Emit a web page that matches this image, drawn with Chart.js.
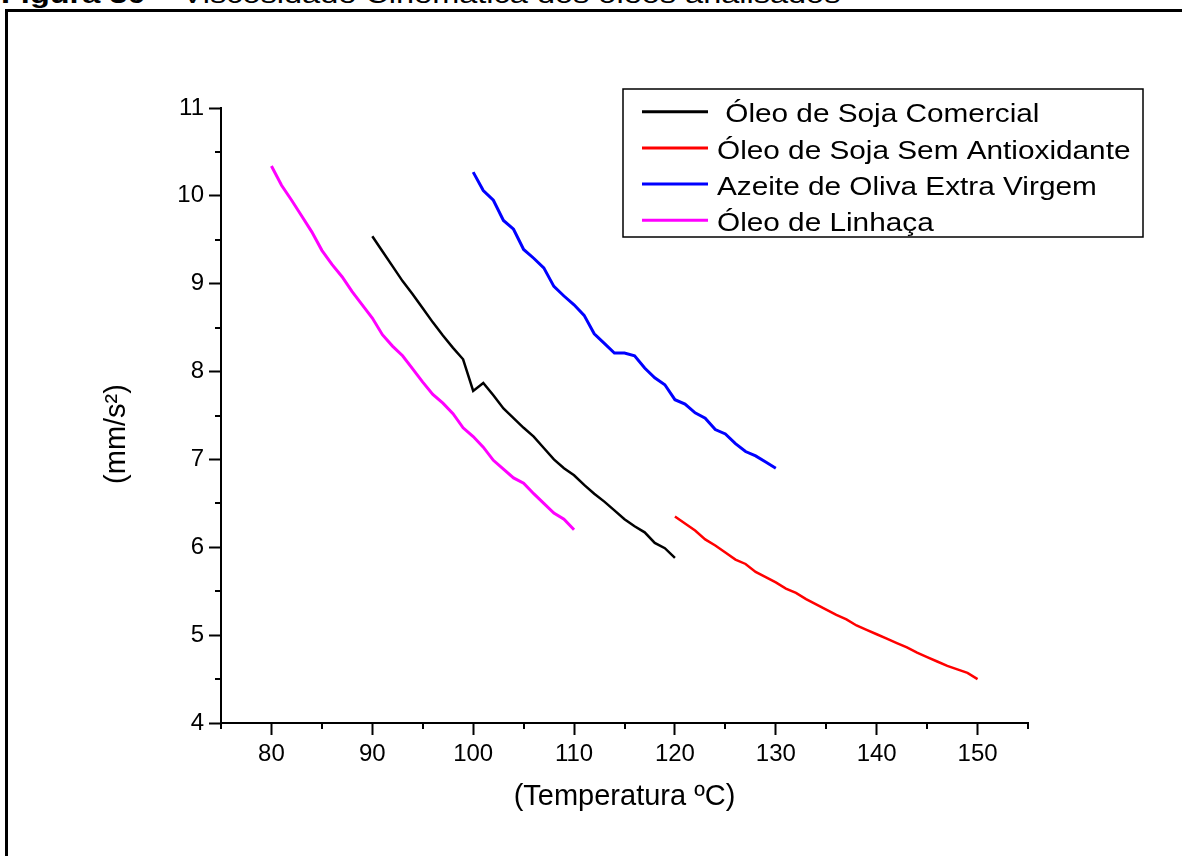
<!DOCTYPE html>
<html lang="pt">
<head>
<meta charset="utf-8">
<title>Viscosidade Cinemática dos óleos analisados</title>
<script src="https://cdn.jsdelivr.net/npm/chart.js@4.4.1/dist/chart.umd.min.js"></script>
<style>
  html, body { margin: 0; padding: 0; background: #ffffff; width: 1182px; height: 856px; overflow: hidden; }
  #caption {
    position: absolute; left: 1px; top: -19px;
    font: 26px/26px "Liberation Sans", Arial, Helvetica, sans-serif; color: #000;
    white-space: nowrap; transform: scaleX(1.25); transform-origin: left top;
  }
  #frame {
    position: absolute; left: 5px; top: 9px; width: 1300px; height: 1000px;
    border: 3px solid #000; box-sizing: border-box;
  }
  #chart { position: absolute; left: 0; top: 0; }
</style>
</head>
<body>
<div id="caption"><b>Figura 30</b> – Viscosidade Cinemática dos óleos analisados</div>
<div id="frame"></div>
<canvas id="chart" width="1182" height="856"></canvas>
<script>
// Temperatures (ºC) and kinematic viscosities (mm/s²) of each oil
const tempComercial = [90, 91, 92, 93, 94, 95, 96, 97, 98, 99, 100, 101, 102, 103, 104, 105,
                       106, 107, 108, 109, 110, 111, 112, 113, 114, 115, 116, 117, 118, 119, 120];
const viscComercial = [9.54, 9.37, 9.20, 9.03, 8.88, 8.72, 8.56, 8.41, 8.27, 8.14, 7.78, 7.87, 7.73, 7.58, 7.47, 7.36,
                       7.26, 7.13, 7.00, 6.90, 6.82, 6.71, 6.61, 6.52, 6.42, 6.32, 6.24, 6.17, 6.05, 5.99, 5.88];

const tempSemAntiox = [120, 121, 122, 123, 124, 125, 126, 127, 128, 129, 130, 131, 132, 133, 134, 135,
                       136, 137, 138, 139, 140, 141, 142, 143, 144, 145, 146, 147, 148, 149, 150];
const viscSemAntiox = [6.35, 6.27, 6.19, 6.09, 6.02, 5.94, 5.86, 5.81, 5.72, 5.66, 5.60, 5.53, 5.48, 5.41, 5.35, 5.29,
                       5.23, 5.18, 5.11, 5.06, 5.01, 4.96, 4.91, 4.86, 4.80, 4.75, 4.70, 4.65, 4.61, 4.57, 4.50];

const tempOliva = [100, 101, 102, 103, 104, 105, 106, 107, 108, 109, 110, 111, 112, 113, 114, 115,
                   116, 117, 118, 119, 120, 121, 122, 123, 124, 125, 126, 127, 128, 129, 130];
const viscOliva = [10.27, 10.06, 9.95, 9.72, 9.62, 9.39, 9.29, 9.18, 8.97, 8.86, 8.76, 8.64, 8.43, 8.32, 8.21, 8.21,
                   8.18, 8.04, 7.93, 7.85, 7.68, 7.63, 7.53, 7.47, 7.34, 7.29, 7.18, 7.09, 7.04, 6.97, 6.90];

const tempLinhaca = [80, 81, 82, 83, 84, 85, 86, 87, 88, 89, 90, 91, 92, 93, 94, 95,
                     96, 97, 98, 99, 100, 101, 102, 103, 104, 105, 106, 107, 108, 109, 110];
const viscLinhaca = [10.34, 10.12, 9.95, 9.77, 9.59, 9.38, 9.22, 9.08, 8.91, 8.76, 8.61, 8.42, 8.29, 8.18, 8.03, 7.88,
                     7.74, 7.64, 7.52, 7.36, 7.26, 7.14, 6.99, 6.89, 6.79, 6.73, 6.61, 6.50, 6.39, 6.32, 6.20];

const seriesLabels = [' Óleo de Soja Comercial', 'Óleo de Soja Sem Antioxidante',
                      'Azeite de Oliva Extra Virgem', 'Óleo de Linhaça'];
const seriesColors = ['#000000', '#ff0000', '#0000ff', '#ff00ff'];

// Axis ticks
const xTickValues = [80, 90, 100, 110, 120, 130, 140, 150];
const xMinorTicks = [75, 85, 95, 105, 115, 125, 135, 145, 155];
const yTickValues = [4, 5, 6, 7, 8, 9, 10, 11];
const yMinorTicks = [4.5, 5.5, 6.5, 7.5, 8.5, 9.5, 10.5];

const xTitle = '(Temperatura ºC)';
const yTitle = '(mm/s²)';

const FONT = '"Liberation Sans", Arial, Helvetica, sans-serif';
const toPoints = (xs, ys) => xs.map((x, i) => ({ x, y: ys[i] }));

// Short unlabelled ticks half-way between the labelled ones
const minorTicksPlugin = {
  id: 'minorTicks',
  afterDraw(chart) {
    const { ctx, chartArea, scales: { x, y } } = chart;
    ctx.save();
    ctx.strokeStyle = '#000';
    ctx.lineWidth = 2;
    ctx.beginPath();
    xMinorTicks.forEach(v => {
      const px = Math.round(x.getPixelForValue(v));
      ctx.moveTo(px, chartArea.bottom);
      ctx.lineTo(px, chartArea.bottom + 6);
    });
    yMinorTicks.forEach(v => {
      const py = Math.round(y.getPixelForValue(v));
      ctx.moveTo(chartArea.left, py);
      ctx.lineTo(chartArea.left - 6, py);
    });
    ctx.stroke();
    ctx.restore();
  }
};

// Rotated y-axis title, set a little below the axis centre
const yTitlePlugin = {
  id: 'yAxisTitle',
  afterDraw(chart) {
    const { ctx, scales: { y } } = chart;
    ctx.save();
    ctx.translate(y.left + 116.5, 434);
    ctx.rotate(-Math.PI / 2);
    ctx.font = '29px ' + FONT;
    ctx.fillStyle = '#000';
    ctx.textAlign = 'center';
    ctx.textBaseline = 'middle';
    ctx.fillText(yTitle, 0, 0);
    ctx.restore();
  }
};

// Boxed legend in the upper right corner, text drawn slightly widened
const legendPlugin = {
  id: 'boxLegend',
  afterDraw(chart) {
    const { ctx } = chart;
    const box = { left: 623, top: 89, right: 1143, bottom: 237 };
    const row0 = 111.7, rowStep = 36.2;
    ctx.save();
    ctx.fillStyle = '#fff';
    ctx.fillRect(box.left, box.top, box.right - box.left, box.bottom - box.top);
    ctx.strokeStyle = '#000';
    ctx.lineWidth = 1.5;
    ctx.strokeRect(box.left, box.top, box.right - box.left, box.bottom - box.top);
    chart.data.datasets.forEach((ds, i) => {
      const yRow = row0 + i * rowStep;
      ctx.strokeStyle = ds.borderColor;
      ctx.lineWidth = 3;
      ctx.beginPath();
      ctx.moveTo(642, yRow);
      ctx.lineTo(708, yRow);
      ctx.stroke();
      ctx.save();
      ctx.translate(717, yRow + 10.6);
      ctx.scale(1.19, 1);
      ctx.font = '25px ' + FONT;
      ctx.fillStyle = '#000';
      ctx.textAlign = 'left';
      ctx.textBaseline = 'alphabetic';
      ctx.fillText(ds.label, 0, 0);
      ctx.restore();
    });
    ctx.restore();
  }
};

const axisGrid = {
  drawOnChartArea: false, drawTicks: true, tickLength: 12,
  tickWidth: 2, tickColor: '#000', color: '#000'
};
const axisBorder = { display: true, color: '#000', width: 2 };

new Chart(document.getElementById('chart'), {
  type: 'line',
  data: {
    datasets: [
      { label: seriesLabels[0], data: toPoints(tempComercial, viscComercial), borderColor: seriesColors[0], borderWidth: 2.5 },
      { label: seriesLabels[1], data: toPoints(tempSemAntiox, viscSemAntiox), borderColor: seriesColors[1], borderWidth: 2.5 },
      { label: seriesLabels[2], data: toPoints(tempOliva, viscOliva), borderColor: seriesColors[2], borderWidth: 3 },
      { label: seriesLabels[3], data: toPoints(tempLinhaca, viscLinhaca), borderColor: seriesColors[3], borderWidth: 3 }
    ]
  },
  options: {
    responsive: false,
    animation: false,
    devicePixelRatio: 1,
    elements: {
      point: { radius: 0, hoverRadius: 0 },
      line: { tension: 0, fill: false }
    },
    layout: { padding: { left: 0, top: 108, right: 154, bottom: 33 } },
    plugins: {
      legend: { display: false },
      tooltip: { enabled: false }
    },
    scales: {
      x: {
        type: 'linear', min: 75, max: 155,
        afterBuildTicks: s => { s.ticks = xTickValues.map(v => ({ value: v })); },
        afterFit: s => { s.height = 100; },
        grid: axisGrid,
        border: axisBorder,
        ticks: { color: '#000', font: { family: FONT, size: 24 }, padding: 5, maxRotation: 0, autoSkip: false },
        title: { display: true, text: xTitle, color: '#000', font: { family: FONT, size: 29 }, padding: { top: 0, bottom: 9 } }
      },
      y: {
        type: 'linear', min: 4, max: 11,
        afterBuildTicks: s => { s.ticks = yTickValues.map(v => ({ value: v })); },
        afterFit: s => { s.width = 221; },
        grid: axisGrid,
        border: axisBorder,
        ticks: { color: '#000', font: { family: FONT, size: 24 }, padding: 5 },
        title: { display: false }
      }
    }
  },
  plugins: [minorTicksPlugin, yTitlePlugin, legendPlugin]
});
</script>
</body>
</html>
